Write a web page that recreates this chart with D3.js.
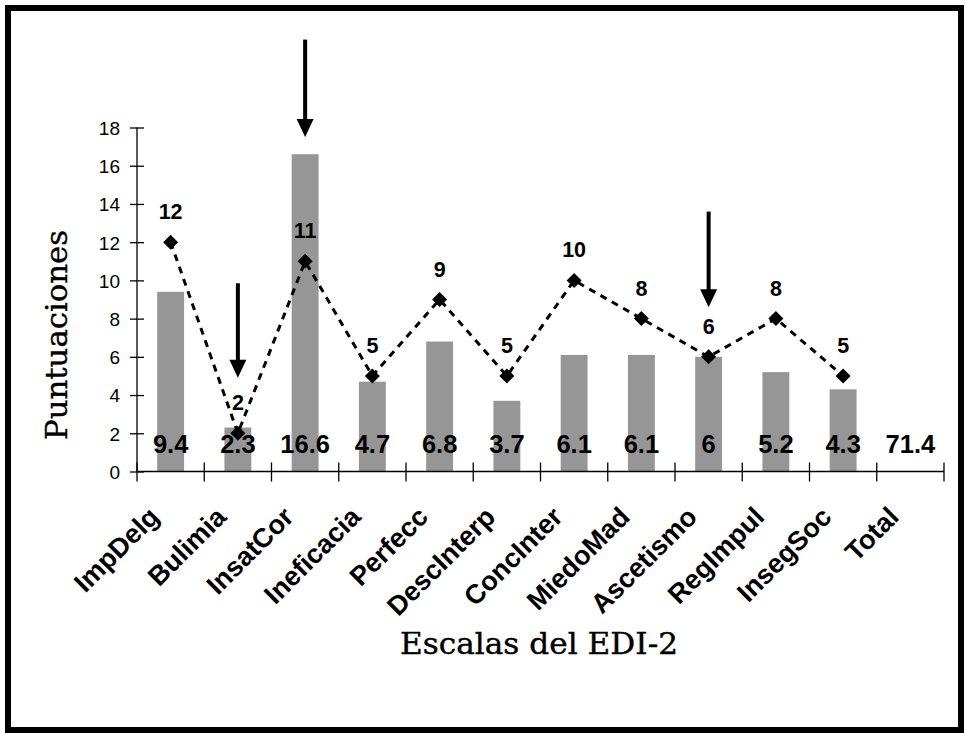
<!DOCTYPE html>
<html>
<head>
<meta charset="utf-8">
<script src="https://cdn.jsdelivr.net/npm/d3@7/dist/d3.min.js"></script>
<style>
  html, body { margin: 0; padding: 0; background: #fff; }
  svg { display: block; }
</style>
</head>
<body>
<svg id="chart" width="966" height="733"></svg>
<script>
// ---------------- data ----------------
const categories = ["ImpDelg", "Bulimia", "InsatCor", "Ineficacia", "Perfecc", "DescInterp",
                    "ConcInter", "MiedoMad", "Ascetismo", "RegImpul", "InsegSoc", "Total"];
// bar series (Puntuaciones directas)
const barValues = [9.4, 2.3, 16.6, 4.7, 6.8, 3.7, 6.1, 6.1, 6, 5.2, 4.3, null];
// value labels drawn at the foot of each category
const barLabels = ["9.4", "2.3", "16.6", "4.7", "6.8", "3.7", "6.1", "6.1", "6", "5.2", "4.3", "71.4"];
// line series (dashed, diamond markers)
const lineValues = [12, 2, 11, 5, 9, 5, 10, 8, 6, 8, 5, null];
// y axis ticks
const yTicks = [0, 2, 4, 6, 8, 10, 12, 14, 16, 18];
// highlighted categories (arrows): top and tip in data units
const arrowCats = ["Bulimia", "InsatCor", "Ascetismo"];
const arrowTop = [9.85, 22.6, 13.6];
const arrowTip = [4.9, 17.5, 8.6];

const yTitle = "Puntuaciones";
const xTitle = "Escalas del EDI-2";

// ---------------- layout ----------------
const svg = d3.select("#chart");
const plot = { left: 137, right: 944, top: 127.5, bottom: 471.5 };
const SANS = "'Liberation Sans', Arial, sans-serif";
const SERIF = "'DejaVu Serif', serif";

// frame
svg.append("rect")
  .attr("x", 8).attr("y", 8).attr("width", 953).attr("height", 722)
  .attr("fill", "#fff").attr("stroke", "#000").attr("stroke-width", 6);

const x = d3.scaleBand().domain(categories).range([plot.left, plot.right]).padding(0);
const y = d3.scaleLinear().domain([0, 18]).range([plot.bottom, plot.top]);
const cx = c => x(c) + x.bandwidth() / 2;

// ---------------- bars ----------------
const barW = x.bandwidth() * 0.4;
svg.append("g").selectAll("rect")
  .data(categories.map((c, i) => ({ c, v: barValues[i] })).filter(d => d.v != null))
  .join("rect")
  .attr("x", d => cx(d.c) - barW / 2)
  .attr("y", d => y(d.v))
  .attr("width", barW)
  .attr("height", d => y(0) - y(d.v))
  .attr("fill", "#969696");

// ---------------- axes ----------------
const yAxis = svg.append("g").attr("transform", `translate(${plot.left},0)`)
  .call(d3.axisLeft(y).tickValues(yTicks).tickSize(7).tickFormat(d3.format("d")));
yAxis.select(".domain").attr("stroke", "#000").attr("stroke-width", 1.3).attr("d", `M0,${plot.top}V${plot.bottom}`);
yAxis.selectAll(".tick line").attr("x1", 7).attr("x2", -7).attr("stroke", "#000").attr("stroke-width", 1.3);
yAxis.selectAll(".tick text")
  .attr("x", -17).attr("dy", "0.36em")
  .attr("font-family", SANS)
  .attr("font-size", 19)
  .attr("fill", "#000");

// x axis line + boundary ticks
const xAxisG = svg.append("g");
xAxisG.append("line")
  .attr("x1", plot.left).attr("x2", plot.right)
  .attr("y1", y(0)).attr("y2", y(0))
  .attr("stroke", "#000").attr("stroke-width", 1.3);
const boundaries = categories.map(c => x(c)).concat([x.range()[1]]);
xAxisG.selectAll("line.t").data(boundaries).join("line")
  .attr("class", "t")
  .attr("x1", d => d).attr("x2", d => d)
  .attr("y1", y(0) - 9).attr("y2", y(0) + 10)
  .attr("stroke", "#000").attr("stroke-width", 1.3);

// category labels rotated
xAxisG.selectAll("text.cat").data(categories).join("text")
  .attr("class", "cat")
  .attr("transform", c => `translate(${cx(c) - 10},${y(0) + 47}) rotate(-45)`)
  .attr("text-anchor", "end")
  .attr("font-family", SANS)
  .attr("font-weight", "bold")
  .attr("font-size", 27)
  .attr("fill", "#000")
  .text(c => c);

// ---------------- bar value labels ----------------
svg.append("g").selectAll("text")
  .data(categories.map((c, i) => ({ c, t: barLabels[i] })))
  .join("text")
  .attr("x", d => cx(d.c))
  .attr("y", y(0) - 18.5)
  .attr("text-anchor", "middle")
  .attr("font-family", SANS)
  .attr("font-weight", "bold")
  .attr("font-size", 25.5)
  .attr("fill", "#000")
  .text(d => d.t);

// ---------------- line series ----------------
const linePts = categories.map((c, i) => ({ c, v: lineValues[i] })).filter(d => d.v != null);
const line = d3.line().x(d => cx(d.c)).y(d => y(d.v));
svg.append("path")
  .datum(linePts)
  .attr("d", line)
  .attr("fill", "none")
  .attr("stroke", "#000")
  .attr("stroke-width", 3)
  .attr("stroke-dasharray", "7,6");

const dm = 7.5;
svg.append("g").selectAll("path")
  .data(linePts).join("path")
  .attr("d", d => {
    const px = cx(d.c), py = y(d.v);
    return `M${px},${py - dm}L${px + dm},${py}L${px},${py + dm}L${px - dm},${py}Z`;
  })
  .attr("fill", "#000");

svg.append("g").selectAll("text")
  .data(linePts).join("text")
  .attr("x", d => cx(d.c))
  .attr("y", d => y(d.v) - 23)
  .attr("text-anchor", "middle")
  .attr("font-family", SANS)
  .attr("font-weight", "bold")
  .attr("font-size", 21.5)
  .attr("fill", "#000")
  .text(d => d.v);

// ---------------- arrows ----------------
const headH = 18, headW = 17;
const arrows = arrowCats.map((c, i) => ({ c, top: arrowTop[i], tip: arrowTip[i] }));
const ag = svg.append("g");
ag.selectAll("line").data(arrows).join("line")
  .attr("x1", d => cx(d.c)).attr("x2", d => cx(d.c))
  .attr("y1", d => y(d.top)).attr("y2", d => y(d.tip) - headH + 2)
  .attr("stroke", "#000").attr("stroke-width", 4);
ag.selectAll("path").data(arrows).join("path")
  .attr("d", d => {
    const px = cx(d.c), py = y(d.tip);
    return `M${px - headW / 2},${py - headH}L${px + headW / 2},${py - headH}L${px},${py}Z`;
  })
  .attr("fill", "#000");

// ---------------- titles ----------------
svg.append("text")
  .attr("transform", `translate(67,335) rotate(-90)`)
  .attr("text-anchor", "middle")
  .attr("font-family", SERIF)
  .attr("font-size", 30)
  .attr("textLength", 210)
  .attr("lengthAdjust", "spacingAndGlyphs")
  .attr("fill", "#000")
  .attr("stroke", "#000").attr("stroke-width", 0.4)
  .text(yTitle);

svg.append("text")
  .attr("x", 539).attr("y", 654)
  .attr("text-anchor", "middle")
  .attr("font-family", SERIF)
  .attr("font-size", 29)
  .attr("textLength", 278)
  .attr("lengthAdjust", "spacingAndGlyphs")
  .attr("fill", "#000")
  .attr("stroke", "#000").attr("stroke-width", 0.4)
  .text(xTitle);
</script>
</body>
</html>
